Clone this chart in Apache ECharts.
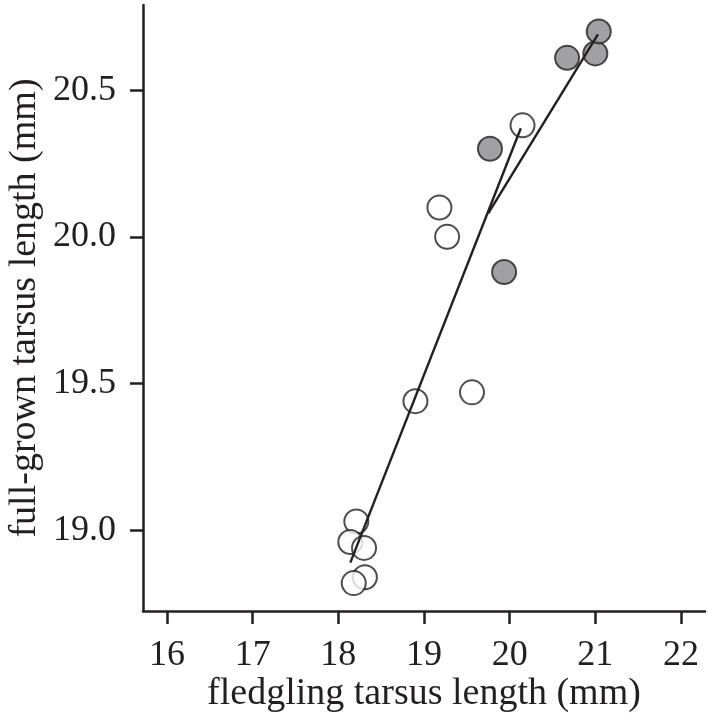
<!DOCTYPE html>
<html>
<head>
<meta charset="utf-8">
<script src="https://cdn.jsdelivr.net/npm/echarts@6/dist/echarts.min.js"></script>
<style>html,body{margin:0;padding:0;background:#fff}#c{width:708px;height:713px}</style>
</head>
<body>
<div id="c"></div>
<script>
// open circles
var openX = [18.90, 19.56, 18.21, 18.14, 18.30, 18.31, 18.18, 20.15, 19.18, 19.27];
var openY = [19.44, 19.47, 19.03, 18.96, 18.94, 18.84, 18.82, 20.38, 20.10, 20.00];
// grey circles
var grayX = [19.77, 19.935, 20.67, 21.00, 21.04];
var grayY = [20.30, 19.88, 20.61, 20.625, 20.70];
// fitted lines
var openFitX = [18.14, 20.13];
var openFitY = [18.89, 20.37];
var grayFitX = [19.75, 21.03];
var grayFitY = [20.08, 20.69];
// ticks
var xTicks = [16, 17, 18, 19, 20, 21, 22];
var yTicks = [19.0, 19.5, 20.0, 20.5];

function zip(a, b) { return a.map(function (v, i) { return [v, b[i]]; }); }

var font = 'Liberation Serif';
var ink = '#231f20';
var chart = echarts.init(document.getElementById('c'));
chart.setOption({
  animation: false,
  grid: { left: 143, right: 3, top: 5, bottom: 102, outerBoundsMode: 'none', containLabel: false },
  xAxis: {
    type: 'value', min: 15.72, max: 22.28,
    name: 'fledgling tarsus length (mm)', nameLocation: 'middle', nameGap: 64, nameMoveOverlap: false,
    nameTextStyle: { fontFamily: font, fontSize: 38, color: ink },
    axisLine: { onZero: false, lineStyle: { color: ink, width: 2.5 } },
    axisTick: { show: true, length: 13, lineStyle: { color: ink, width: 2.5 }, customValues: xTicks },
    axisLabel: { fontFamily: font, fontSize: 36, color: ink, margin: 27, customValues: xTicks },
    splitLine: { show: false }
  },
  yAxis: {
    type: 'value', min: 18.725, max: 20.79,
    name: 'full-grown tarsus length (mm)', nameLocation: 'middle', nameGap: 99, nameMoveOverlap: false,
    nameTextStyle: { fontFamily: font, fontSize: 38, color: ink },
    axisLine: { show: true, onZero: false, lineStyle: { color: ink, width: 2.5 } },
    axisTick: { show: true, length: 13, lineStyle: { color: ink, width: 2.5 }, customValues: yTicks },
    axisLabel: { fontFamily: font, fontSize: 36, color: ink, margin: 27, customValues: yTicks,
      formatter: function (v) { return v.toFixed(1); } },
    splitLine: { show: false }
  },
  series: [
    { type: 'scatter', data: zip(openX, openY), symbol: 'circle', symbolSize: 24, z: 2,
      itemStyle: { color: '#ffffff', borderColor: ink, borderWidth: 2 } },
    { type: 'scatter', data: zip(grayX, grayY), symbol: 'circle', symbolSize: 24, z: 2,
      itemStyle: { color: '#8a8a8c', borderColor: ink, borderWidth: 2 } },
    { type: 'line', data: zip(openFitX, openFitY), showSymbol: false, z: 5,
      lineStyle: { color: ink, width: 2.4 } },
    { type: 'line', data: zip(grayFitX, grayFitY), showSymbol: false, z: 5,
      lineStyle: { color: ink, width: 2.4 } }
  ]
});
</script>
</body>
</html>
